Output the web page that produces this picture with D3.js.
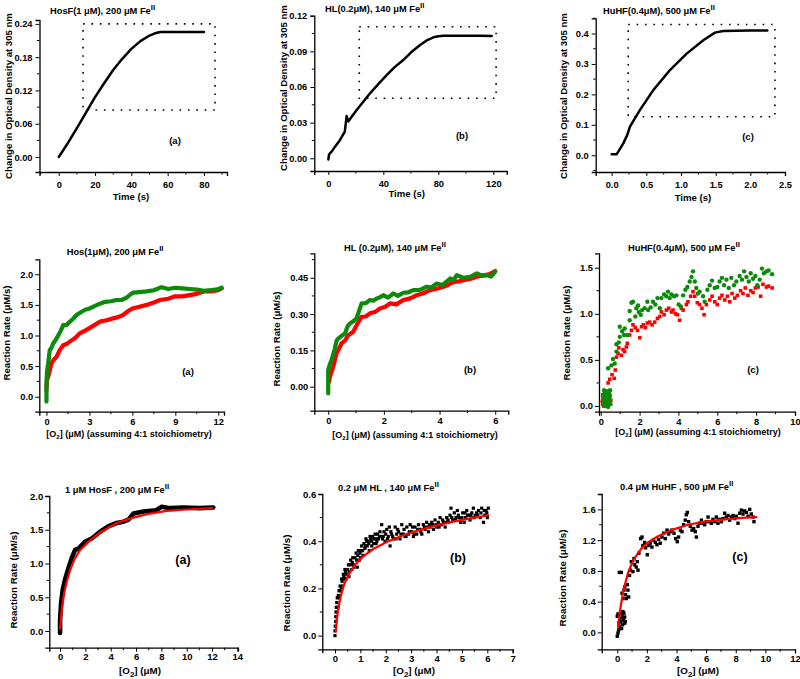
<!DOCTYPE html>
<html><head><meta charset="utf-8">
<script src="https://cdn.jsdelivr.net/npm/d3@7"></script>
<style>
body{margin:0;background:#fff}
svg{display:block}
text{font-family:"Liberation Sans",Arial,sans-serif;font-weight:bold;fill:#000}
</style>
</head><body>
<svg id="c" width="800" height="679"></svg>
<script>
// ---------------- DATA ----------------
// Row 1: optical density traces
const p1aTime = [0,2,5,10,15,20,25,30,35,40,45,50,53,56,60,65,70,75,80];
const p1aOD   = [0,0.010,0.025,0.052,0.080,0.108,0.133,0.157,0.177,0.195,0.209,0.219,0.223,0.2255,0.2255,0.2252,0.2253,0.2252,0.2252];
const p1bTime = [0,0.5,1,2.4,5,8.5,12,13.3,14.5,17,20.6,25,30.3,36,42.4,48,54.5,60,66.7,72,76.4,80,83.6,90,100,110,118.8];
const p1bOD   = [-0.001,0.003,0.004,0.0056,0.010,0.0154,0.0224,0.0356,0.031,0.035,0.0407,0.047,0.0547,0.062,0.070,0.0765,0.0827,0.089,0.0953,0.0995,0.1018,0.1027,0.1032,0.1032,0.1031,0.1031,0.1030];
const p1cTime = [0,0.07,0.096,0.168,0.226,0.264,0.409,0.601,0.841,1.082,1.322,1.49,1.61,1.8,2.0,2.245];
const p1cOD   = [0.003,0.003,0.012,0.039,0.067,0.094,0.149,0.214,0.280,0.334,0.378,0.403,0.408,0.409,0.410,0.410];
const p1aBox = [13.4, 86.1, 0.0848, 0.2401];
const p1bBox = [22.5, 122, 0.0505, 0.1107];
const p1cBox = [0.239, 2.355, 0.1266, 0.4295];

// Row 2: reaction rate vs [O2] (green & red)
const p2aGreenX = [0,0,0.02,0.05,0.12,0.23,0.35,0.47,0.65,0.82,1.0,1.17,1.4,1.6,1.85,2.1,2.4,2.7,3.0,3.35,3.73,4.1,4.5,4.9,5.25,5.6,5.85,6.06,6.5,7.0,7.5,8.04,8.5,9.0,9.5,10.0,10.5,11.0,11.5,12.0,12.24];
const p2aGreenY = [-0.08,0.10,0.33,0.43,0.545,0.76,0.80,0.87,0.93,1.0,1.08,1.17,1.17,1.22,1.27,1.335,1.38,1.42,1.44,1.48,1.52,1.55,1.56,1.58,1.58,1.62,1.67,1.70,1.71,1.72,1.74,1.79,1.76,1.78,1.77,1.76,1.75,1.73,1.74,1.76,1.78];
const p2aRedX = [0,0.02,0.12,0.25,0.35,0.5,0.7,0.9,1.17,1.4,1.63,2.0,2.33,2.7,3.0,3.35,3.73,4.2,4.66,5.0,5.36,5.7,6.0,6.5,7.0,7.5,7.93,8.5,9.0,9.5,10.0,10.5,11.0,11.5,12.0,12.24];
const p2aRedY = [0.11,0.25,0.33,0.45,0.545,0.60,0.65,0.75,0.84,0.86,0.90,0.96,1.035,1.08,1.12,1.17,1.226,1.25,1.28,1.30,1.335,1.40,1.44,1.47,1.50,1.54,1.58,1.60,1.64,1.64,1.66,1.68,1.72,1.72,1.74,1.77];

const p2bGreenX = [0,0,0.05,0.12,0.24,0.3,0.36,0.48,0.6,0.7,0.78,0.9,1.02,1.1,1.2,1.35,1.5,1.62,1.74,1.86,1.98,2.15,2.34,2.5,2.7,2.88,3.06,3.3,3.54,3.7,3.9,4.1,4.38,4.5,4.62,4.85,5.1,5.34,5.5,5.7,5.85,6.0];
const p2bGreenY = [-0.028,0.069,0.09,0.110,0.158,0.19,0.199,0.21,0.22,0.25,0.261,0.27,0.282,0.31,0.344,0.345,0.358,0.355,0.364,0.37,0.378,0.368,0.385,0.375,0.388,0.39,0.399,0.40,0.413,0.41,0.426,0.42,0.447,0.44,0.461,0.45,0.454,0.468,0.46,0.461,0.455,0.475];
const p2bRedX = [0.03,0.06,0.18,0.3,0.4,0.48,0.6,0.72,0.9,1.05,1.2,1.35,1.5,1.7,1.86,2.05,2.22,2.45,2.7,2.95,3.18,3.4,3.66,3.9,4.14,4.3,4.5,4.7,4.86,5.1,5.34,5.6,5.8,6.0];
const p2bRedY = [0.02,0.041,0.083,0.138,0.16,0.179,0.19,0.213,0.227,0.26,0.289,0.29,0.303,0.31,0.323,0.33,0.344,0.34,0.358,0.365,0.378,0.385,0.399,0.405,0.413,0.42,0.433,0.435,0.440,0.445,0.454,0.46,0.465,0.478];

const p2cGreenX = [0.12,0.15,0.18,0.2,0.22,0.25,0.27,0.3,0.32,0.34,0.36,0.38,0.4,0.42,0.44,0.46,0.48,0.5,0.13,0.17,0.24,0.29,0.35,0.41,0.47,
  0.38,0.55,0.63,0.72,0.81,0.81,0.93,0.98,0.98,1.1,1.2,1.23,1.37,1.49,1.49,1.58,1.66,1.78,1.83,1.92,1.96,2.06,2.13,2.26,2.4,2.44,2.57,2.69,2.81,2.92,3.04,3.12,3.26,3.38,3.46,3.55,3.64,3.77,3.89,4.01,4.12,4.24,4.36,4.46,4.58,4.67,4.75,4.84,4.92,5.0,5.09,5.27,5.35,5.49,5.61,5.73,5.87,6.0,6.12,6.24,6.35,6.47,6.59,6.72,6.86,6.98,7.15,7.27,7.38,7.5,7.62,7.72,7.84,7.96,8.06,8.18,8.3,8.4,8.53,8.64,8.82];
const p2cGreenY = [0.02,0.10,0.05,0.14,0.0,0.08,0.16,0.03,0.12,0.06,0.15,-0.01,0.10,0.04,0.13,0.07,0.17,0.02,0.12,0.17,0.11,0.09,0.01,0.16,0.11,
  0.41,0.44,0.51,0.46,0.59,0.67,0.69,0.75,0.86,0.81,0.77,0.84,0.77,0.93,1.03,1.12,1.13,0.97,1.06,1.09,1.02,0.99,1.04,1.06,1.13,1.04,1.07,1.13,1.10,1.17,1.06,1.17,1.21,1.19,1.24,1.17,1.21,1.19,1.20,1.10,1.08,1.20,1.26,1.29,1.35,1.40,1.46,1.35,1.28,1.22,1.24,1.19,1.13,1.26,1.31,1.36,1.28,1.29,1.35,1.39,1.31,1.37,1.28,1.39,1.31,1.35,1.41,1.37,1.46,1.40,1.35,1.44,1.38,1.41,1.31,1.37,1.49,1.44,1.46,1.47,1.43];
const p2cRedX = [0.08,0.1,0.12,0.14,0.16,0.45,0.52,
  0.38,0.46,0.58,0.69,0.75,0.81,0.89,0.93,1.06,1.15,1.23,1.32,1.37,1.49,1.58,1.66,1.78,1.89,2.01,2.1,2.19,2.3,2.4,2.52,2.64,2.78,2.92,3.04,3.12,3.26,3.38,3.5,3.64,3.72,3.84,3.95,4.06,4.15,4.24,4.41,4.49,4.63,4.75,4.84,4.97,5.09,5.21,5.32,5.44,5.61,5.73,5.87,6.0,6.12,6.24,6.38,6.52,6.64,6.76,6.9,7.03,7.2,7.32,7.44,7.58,7.72,7.84,7.96,8.1,8.23,8.35,8.53,8.64,8.82];
const p2cRedY = [0.05,0.12,0.08,0.0,0.03,0.09,0.06,
  0.25,0.29,0.34,0.30,0.39,0.53,0.57,0.63,0.55,0.61,0.59,0.64,0.68,0.77,0.82,0.88,0.85,0.82,0.74,0.86,0.88,0.85,0.90,0.91,0.88,0.91,0.95,0.97,1.02,0.99,1.04,1.06,1.02,1.04,1.00,0.99,0.93,1.06,1.04,1.10,1.13,1.19,1.24,1.19,1.12,1.10,1.06,0.99,1.10,1.15,1.19,1.13,1.10,1.17,1.20,1.15,1.19,1.13,1.22,1.17,1.20,1.25,1.22,1.28,1.20,1.25,1.23,1.28,1.29,1.19,1.32,1.29,1.30,1.28];

// Row 3: data with fits
const p3aDataX = [0,0,0.08,0.21,0.39,0.66,0.92,1.18,1.45,1.97,2.5,3.16,3.8,4.47,5.0,5.4,5.8,6.6,7.6,8.0,8.7,9.7,11.0,12.1];
const p3aDataY = [-0.03,0.16,0.41,0.61,0.76,0.93,1.08,1.20,1.22,1.32,1.37,1.47,1.55,1.60,1.62,1.65,1.74,1.77,1.79,1.84,1.82,1.83,1.82,1.83];
const p3aFitX = [0,0.13,0.32,0.53,0.79,1.1,1.58,2.24,3.16,4.47,5.79,7.1,8.4,10,12];
const p3aFitY = [0.04,0.31,0.56,0.73,0.90,1.05,1.20,1.32,1.46,1.60,1.68,1.74,1.78,1.80,1.82];

const p3bDataX = [0,0,0.01,0.03,0.03,0.04,0.05,0.07,0.09,0.13,0.16,0.2,0.22,0.26,0.3,0.33,0.35,0.39,0.43,0.46,0.53,0.57,0.62,0.66,0.7,0.72,0.79,0.83,0.88,0.92,0.96,1.01,1.05,1.09,1.14,1.18,1.22,1.27,1.31,1.35,1.41,1.45,1.48,1.54,1.58,1.62,1.67,1.71,1.77,1.81,1.84,1.87,1.93,1.97,2.04,2.1,2.14,2.17,2.23,2.3,2.37,2.43,2.5,2.56,2.63,2.69,2.76,2.83,2.89,2.96,3.02,3.09,3.15,3.22,3.29,3.35,3.42,3.48,3.55,3.61,3.68,3.75,3.81,3.88,3.94,4.01,4.07,4.14,4.2,4.27,4.34,4.4,4.47,4.53,4.57,4.64,4.7,4.77,4.82,4.9,4.95,5.03,5.09,5.14,5.19,5.26,5.32,5.39,5.45,5.52,5.58,5.65,5.72,5.78,5.85,5.9,5.95,6.0,6.04,
  0.12,0.18,0.25,0.28,0.38,0.42,0.5,0.55,0.6,0.68,0.75,0.85,0.9,0.98,1.03,1.1,1.2,1.25,1.33,1.38,1.44,1.52,1.6,1.65,1.75,1.9,2.0,2.07,2.2,2.27,2.4,2.47,2.6,2.72,2.8,2.93,3.05,3.12,3.25,3.38,3.52,3.65,3.72,3.85,3.98,4.1,4.24,4.37,4.45,4.6,4.74,4.86,5.0,5.12,5.22,5.35,5.48,5.62,5.75,5.88,5.98];
const p3bDataY = [0.00,0.02,0.04,0.06,0.08,0.10,0.12,0.14,0.16,0.17,0.19,0.21,0.19,0.24,0.21,0.26,0.25,0.28,0.24,0.26,0.30,0.27,0.32,0.28,0.33,0.30,0.33,0.35,0.29,0.36,0.32,0.33,0.38,0.36,0.39,0.37,0.41,0.38,0.40,0.36,0.41,0.38,0.42,0.41,0.43,0.39,0.43,0.41,0.44,0.42,0.47,0.41,0.44,0.40,0.45,0.42,0.46,0.38,0.43,0.41,0.46,0.43,0.44,0.41,0.47,0.43,0.42,0.46,0.43,0.47,0.44,0.42,0.46,0.43,0.47,0.45,0.43,0.47,0.45,0.48,0.44,0.46,0.48,0.45,0.49,0.46,0.48,0.50,0.47,0.48,0.46,0.50,0.48,0.51,0.54,0.49,0.52,0.50,0.53,0.50,0.48,0.52,0.48,0.50,0.53,0.51,0.49,0.52,0.54,0.51,0.52,0.53,0.50,0.54,0.48,0.51,0.53,0.50,0.54,
  0.12,0.16,0.20,0.23,0.24,0.27,0.28,0.25,0.30,0.31,0.29,0.32,0.34,0.35,0.36,0.34,0.38,0.40,0.39,0.42,0.40,0.39,0.41,0.40,0.42,0.42,0.43,0.41,0.44,0.42,0.41,0.45,0.43,0.45,0.42,0.44,0.46,0.43,0.45,0.44,0.46,0.46,0.47,0.47,0.47,0.46,0.49,0.48,0.49,0.50,0.49,0.51,0.50,0.52,0.51,0.51,0.50,0.51,0.52,0.53,0.52];
const p3bFitX = [0.03,0.07,0.13,0.22,0.35,0.53,0.79,1.12,1.51,2.04,2.69,3.35,4.0,4.66,5.32,6.04];
const p3bFitY = [0.017,0.066,0.116,0.165,0.215,0.257,0.30,0.337,0.367,0.397,0.425,0.448,0.467,0.483,0.497,0.51];

const p3cDataX = [0,0.05,0.09,0,0.05,0.11,0.16,0.18,0.23,0.27,0.29,0.34,0.36,0.38,0.43,0.45,0.5,0.5,0.54,0.14,0.27,0.32,0.38,0.45,0.5,0.56,0.61,0.68,0.72,0.77,0.83,0.9,0.95,1.06,1.13,1.17,1.28,1.35,1.4,1.46,1.58,1.67,1.73,1.85,1.91,2.03,2.12,2.23,2.34,2.45,2.57,2.68,2.79,2.9,3.02,3.13,3.24,3.36,3.47,3.58,3.69,3.83,3.94,4.05,4.14,4.26,4.37,4.48,4.59,4.66,4.73,4.82,4.93,5.05,5.16,5.27,5.34,5.45,5.56,5.68,5.79,5.9,6.01,6.13,6.24,6.35,6.46,6.58,6.69,6.8,6.91,7.03,7.14,7.25,7.36,7.48,7.59,7.7,7.82,7.93,8.04,8.15,8.27,8.38,8.49,8.6,8.72,8.83,8.94,9.05,9.17,9.23];
const p3cDataY = [-0.05,-0.01,0.03,0.21,0.24,0.12,0.07,0.18,0.14,0.24,0.05,0.20,0.10,0.27,0.16,0.25,0.12,0.20,0.14,0.78,0.78,0.51,0.44,0.55,0.59,0.49,0.44,0.62,0.55,0.46,0.74,0.81,0.92,0.79,0.96,0.88,0.85,0.92,0.81,1.03,1.22,1.24,1.13,1.17,1.10,1.01,1.13,1.16,1.11,1.20,1.17,1.14,1.21,1.16,1.24,1.29,1.22,1.33,1.28,1.31,1.33,1.29,1.22,1.18,1.24,1.33,1.31,1.40,1.46,1.53,1.56,1.44,1.38,1.33,1.35,1.31,1.24,1.38,1.42,1.46,1.42,1.40,1.44,1.50,1.44,1.42,1.47,1.44,1.50,1.42,1.47,1.44,1.48,1.55,1.50,1.52,1.46,1.50,1.52,1.48,1.51,1.42,1.55,1.59,1.54,1.58,1.56,1.51,1.60,1.54,1.50,1.44];
const p3cFitX = [0.05,0.16,0.27,0.38,0.54,0.72,0.95,1.22,1.62,2.07,2.75,3.65,4.77,5.9,7.25,8.38,9.39];
const p3cFitY = [0.07,0.25,0.38,0.51,0.64,0.77,0.88,0.98,1.09,1.17,1.25,1.33,1.40,1.44,1.47,1.49,1.50];

// Ticks
const ticks1aX=[0,20,40,60,80], minor1aX=[-10,10,30,50,70,90];
const ticks1aY=[0,0.06,0.12,0.18,0.24], minor1aY=[-0.03,0.03,0.09,0.15,0.21];
const ticks1bX=[0,40,80,120], minor1bX=[20,60,100];
const ticks1bY=[0,0.03,0.06,0.09,0.12], minor1bY=[0.015,0.045,0.075,0.105];
const ticks1cX=[0,0.5,1.0,1.5,2.0,2.5], minor1cX=[0.25,0.75,1.25,1.75,2.25];
const ticks1cY=[0,0.1,0.2,0.3,0.4], minor1cY=[-0.05,0.05,0.15,0.25,0.35,0.45];
const ticks2aX=[0,3,6,9,12], minor2aX=[1.5,4.5,7.5,10.5];
const ticks2aY=[0,0.5,1.0,1.5,2.0], minor2aY=[0.25,0.75,1.25,1.75];
const ticks2bX=[0,2,4,6], minor2bX=[1,3,5];
const ticks2bY=[0,0.15,0.30,0.45], minor2bY=[0.075,0.225,0.375,0.525];
const ticks2cX=[0,2,4,6,8,10], minor2cX=[1,3,5,7,9];
const ticks2cY=[0,0.5,1.0,1.5], minor2cY=[0.25,0.75,1.25];
const ticks3aX=[0,2,4,6,8,10,12,14], minor3aX=[1,3,5,7,9,11,13];
const ticks3aY=[0,0.5,1.0,1.5,2.0], minor3aY=[0.25,0.75,1.25,1.75];
const ticks3bX=[0,1,2,3,4,5,6,7], minor3bX=[0.5,1.5,2.5,3.5,4.5,5.5,6.5];
const ticks3bY=[0,0.2,0.4,0.6], minor3bY=[0.1,0.3,0.5];
const ticks3cX=[0,2,4,6,8,10,12], minor3cX=[1,3,5,7,9,11];
const ticks3cY=[0,0.4,0.8,1.2,1.6], minor3cY=[0.2,0.6,1.0,1.4];

// ---------------- DRAW ----------------
const svg = d3.select('#c');
const RED='#ff0000', GREEN='#0b8a0b';

function panel(c){
  const g = svg.append('g');
  const x = d3.scaleLinear().domain(c.xd).range(c.xr);
  const y = d3.scaleLinear().domain(c.yd).range(c.yr);
  const fs = c.fs || 9.3;
  const ax = g.append('g').attr('transform',`translate(0,${c.yr[0]})`)
    .call(d3.axisBottom(x).tickValues(c.xt).tickFormat(d3.format(c.xf)).tickSizeOuter(0).tickSize(4).tickPadding(c.xpad));
  ax.selectAll('.m').data(c.xm.filter(v=>v>=c.xd[0]&&v<=c.xd[1])).enter().append('line')
    .attr('x1',d=>x(d)).attr('x2',d=>x(d)).attr('y1',0).attr('y2',2.5).attr('stroke','#000');
  const ay = g.append('g').attr('transform',`translate(${c.xr[0]},0)`)
    .call(d3.axisLeft(y).tickValues(c.yt).tickFormat(d3.format(c.yf)).tickSizeOuter(0).tickSize(4).tickPadding(c.ypad));
  ay.selectAll('.m').data(c.ym.filter(v=>v>=c.yd[0]&&v<=c.yd[1])).enter().append('line')
    .attr('y1',d=>y(d)).attr('y2',d=>y(d)).attr('x1',0).attr('x2',-2.5).attr('stroke','#000');
  [ax,ay].forEach(a=>{
    a.select('.domain').attr('stroke','#000').attr('stroke-width',1.3);
    a.selectAll('.tick line').attr('stroke','#000');
    a.selectAll('text').attr('font-size',fs).attr('font-family','"Liberation Sans",Arial,sans-serif').attr('font-weight','bold').attr('fill','#000');
  });
  return {g,x,y};
}

function title(tx,ty,main,fs){
  const t = svg.append('text').attr('x',tx).attr('y',ty).attr('font-size',fs||9.3);
  t.append('tspan').text(main);
  t.append('tspan').attr('dy',-4).attr('font-size',(fs||9.3)-1.5).text('II');
}
function ylabel(cx,cy,txt,fs){
  svg.append('text').attr('transform',`translate(${cx},${cy}) rotate(-90)`)
    .attr('text-anchor','middle').attr('font-size',fs||9.6).text(txt);
}
function xlabel(cx,cy,txt,fs){
  svg.append('text').attr('x',cx).attr('y',cy).attr('text-anchor','middle').attr('font-size',fs||9.6).text(txt);
}
function o2label(cx,cy,rest,fs,subfs,subdy){
  const t = svg.append('text').attr('x',cx).attr('y',cy).attr('text-anchor','middle').attr('font-size',fs);
  t.append('tspan').text('[O');
  t.append('tspan').attr('dy',subdy).attr('font-size',subfs).text('2');
  t.append('tspan').attr('dy',-subdy).text(']'+rest);
}
function tag(cx,cy,txt,fs){
  svg.append('text').attr('x',cx).attr('y',cy).attr('text-anchor','middle').attr('font-size',fs).text(txt);
}
function line(p,xs,ys,color,w){
  const pts = xs.map((v,i)=>[v,ys[i]]);
  p.g.append('path').datum(pts).attr('fill','none').attr('stroke',color).attr('stroke-width',w)
    .attr('stroke-linejoin','round').attr('stroke-linecap','round')
    .attr('d',d3.line().x(d=>p.x(d[0])).y(d=>p.y(d[1])));
}
function squares(p,xs,ys,color,s){
  p.g.append('g').selectAll('rect').data(xs.map((v,i)=>[v,ys[i]])).enter().append('rect')
    .attr('x',d=>p.x(d[0])-s/2).attr('y',d=>p.y(d[1])-s/2).attr('width',s).attr('height',s).attr('fill',color);
}
function circles(p,xs,ys,color,r){
  p.g.append('g').selectAll('circle').data(xs.map((v,i)=>[v,ys[i]])).enter().append('circle')
    .attr('cx',d=>p.x(d[0])).attr('cy',d=>p.y(d[1])).attr('r',r).attr('fill',color);
}
function dotBox(p,b){
  const x0=p.x(b[0]),x1=p.x(b[1]),y0=p.y(b[3]),y1=p.y(b[2]);
  p.g.append('rect').attr('x',x0).attr('y',y0).attr('width',x1-x0).attr('height',y1-y0)
    .attr('fill','none').attr('stroke','#000').attr('stroke-width',1.6).attr('stroke-dasharray','1.6,6.8');
}

// ---- Row 1 ----
const p1a = panel({xd:[-10.6,92.7],xr:[39.5,227],yd:[-0.027,0.247],yr:[172,20],
  xt:ticks1aX,xm:minor1aX,yt:ticks1aY,ym:minor1aY,xf:'d',yf:'.2f',xpad:5,ypad:3});
dotBox(p1a,p1aBox);
line(p1a,p1aTime,p1aOD,'#000',2.5);
title(50,13.5,'HosF(1 μM), 200 μM Fe');
ylabel(11.5,96,'Change in Optical Density at 305 nm');
xlabel(131,200,'Time (s)');
tag(175,144,'(a)',9.5);

const p1b = panel({xd:[-10.2,129.7],xr:[314.3,506.7],yd:[-0.0107,0.12],yr:[171,15.7],
  xt:ticks1bX,xm:minor1bX,yt:ticks1bY,ym:minor1bY,xf:'d',yf:'.2f',xpad:5,ypad:3});
dotBox(p1b,p1bBox);
line(p1b,p1bTime,p1bOD,'#000',2.5);
title(325,11.5,'HL(0.2μM), 140 μM Fe');
ylabel(286.5,88,'Change in Optical Density at 305 nm');
xlabel(406.7,197,'Time (s)');
tag(462,139,'(b)',9.5);

const p1c = panel({xd:[-0.23,2.5],xr:[595.7,785],yd:[-0.055,0.45],yr:[172,18.3],
  xt:ticks1cX,xm:minor1cX,yt:ticks1cY,ym:minor1cY,xf:'.1f',yf:'.1f',xpad:5,ypad:3});
dotBox(p1c,p1cBox);
line(p1c,p1cTime,p1cOD,'#000',2.5);
title(603,13.5,'HuHF(0.4μM), 500 μM Fe');
ylabel(567,96,'Change in Optical Density at 305 nm');
xlabel(693,201,'Time (s)');
tag(748,140,'(c)',9.5);

// ---- Row 2 ----
const p2a = panel({xd:[-0.5,12.4],xr:[39.3,224],yd:[-0.245,2.245],yr:[411.7,259.3],
  xt:ticks2aX,xm:minor2aX,yt:ticks2aY,ym:minor2aY,xf:'d',yf:'.1f',xpad:3,ypad:2});
line(p2a,p2aRedX,p2aRedY,RED,4.2);
line(p2a,p2aGreenX,p2aGreenY,GREEN,4.2);
title(66.7,255,'Hos(1μM), 200 μM Fe');
ylabel(9.5,333,'Reaction Rate (μM/s)');
o2label(129,436.5,' (μM) (assuming 4:1 stoichiometry)',9,6,2);
tag(188,375,'(a)',9.5);

const p2b = panel({xd:[-0.5,6.47],xr:[314.3,508.3],yd:[-0.099,0.551],yr:[410.7,253.3],
  xt:ticks2bX,xm:minor2bX,yt:ticks2bY,ym:minor2bY,xf:'d',yf:'.2f',xpad:3,ypad:2});
line(p2b,p2bRedX,p2bRedY,RED,4.2);
line(p2b,p2bGreenX,p2bGreenY,GREEN,4.2);
title(344,250.7,'HL (0.2μM), 140 μM Fe');
ylabel(280,339,'Reaction Rate (μM/s)');
o2label(415,438,' (μM) (assuming 4:1 stoichiometry)',9,6,2);
tag(470,373,'(b)',9.5);

const p2c = panel({xd:[-0.09,10],xr:[599,795],yd:[-0.062,1.656],yr:[411.7,253.3],
  xt:ticks2cX,xm:minor2cX,yt:ticks2cY,ym:minor2cY,xf:'d',yf:'.1f',xpad:3,ypad:2});
squares(p2c,p2cRedX,p2cRedY,RED,3.6);
circles(p2c,p2cGreenX,p2cGreenY,GREEN,2.2);
title(628,250.7,'HuHF(0.4μM), 500 μM Fe');
ylabel(570,333,'Reaction Rate (μM/s)');
o2label(698,435,' (μM) (assuming 4:1 stoichiometry)',9,6,2);
tag(753,373,'(c)',9.5);

// ---- Row 3 ----
const p3a = panel({xd:[-0.85,14.05],xr:[49.3,238],yd:[-0.247,2.0],yr:[647.7,496],
  xt:ticks3aX,xm:minor3aX,yt:ticks3aY,ym:minor3aY,xf:'d',yf:'.1f',xpad:2,ypad:2,fs:9.5});
line(p3a,p3aDataX,p3aDataY,'#000',4.6);
line(p3a,p3aFitX,p3aFitY,RED,2.2);
title(65,492.7,'1 μM HosF ,  200 μM Fe');
ylabel(17,580,'Reaction Rate (μM/s)',9.8);
o2label(140,674,' (μM)',9.8,8,3);
tag(183,564,'(a)',12.5);

const p3b = panel({xd:[-0.5,7],xr:[322.3,512.7],yd:[-0.058,0.6],yr:[649.3,494],
  xt:ticks3bX,xm:minor3bX,yt:ticks3bY,ym:minor3bY,xf:'d',yf:'.1f',xpad:2,ypad:2,fs:9.5});
squares(p3b,p3bDataX,p3bDataY,'#000',3.2);
line(p3b,p3bFitX,p3bFitY,RED,2.2);
title(338,491,'0.2 μM HL ,  140 μM Fe');
ylabel(290,583,'Reaction Rate (μM/s)',9.8);
o2label(414,674,' (μM)',9.8,8,3);
tag(458,562,'(b)',12.5);

const p3c = panel({xd:[-1.05,12],xr:[601.7,795],yd:[-0.22,1.8],yr:[649.3,494],
  xt:ticks3cX,xm:minor3cX,yt:ticks3cY,ym:minor3cY,xf:'d',yf:'.1f',xpad:2,ypad:2,fs:9.5});
squares(p3c,p3cDataX,p3cDataY,'#000',3.4);
line(p3c,p3cFitX,p3cFitY,RED,2.2);
title(620,490,'0.4 μM HuHF ,  500 μM Fe');
ylabel(566,578,'Reaction Rate (μM/s)',9.8);
o2label(698,674,' (μM)',9.8,8,3);
tag(740,561,'(c)',12.5);
</script>
</body></html>
